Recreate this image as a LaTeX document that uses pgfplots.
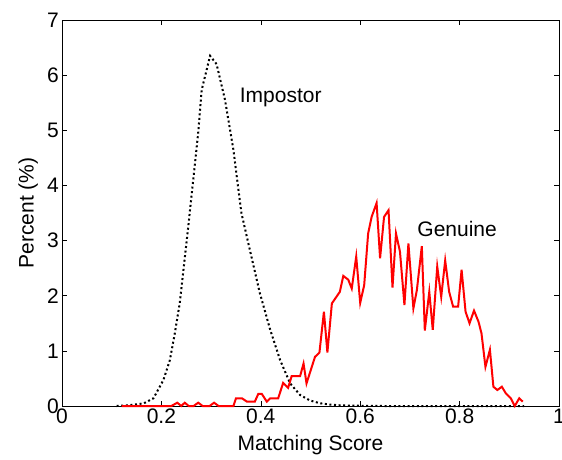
\documentclass[border=0pt]{standalone}
\usepackage{pgfplots}
\pgfplotsset{compat=1.18}
\usepackage{fontspec}
\setmainfont{Liberation Sans}

\begin{document}
\fontsize{21}{25}\selectfont
\begin{tikzpicture}
\begin{axis}[
    scale only axis,
    width=497pt, height=386pt,
    xmin=0, xmax=1,
    ymin=0, ymax=7,
    xtick={0,0.2,0.4,0.6,0.8,1},
    xticklabels={0,0.2,0.4,0.6,0.8,1},
    ytick={0,1,2,3,4,5,6,7},
    tick align=inside,
    major tick length=5pt,
    tick style={black, line width=0.6pt},
    axis line style={line width=0.8pt},
    /pgf/number format/assume math mode=true,
    ticklabel style={font=\fontsize{21}{25}\selectfont},
    xticklabel style={inner sep=1pt, yshift=-2pt},
    yticklabel style={inner sep=1pt, xshift=-2pt},
    xlabel={Matching Score},
    ylabel={Percent (\%)},
    label style={font=\fontsize{21}{25}\selectfont},
    xlabel style={yshift=-3pt},
    ylabel style={yshift=1pt},
    clip=false,
]
% impostor distribution
\addplot[black, line width=2pt, dash pattern=on 2pt off 2.6pt] coordinates {
(0.11,0) (0.13,0.01) (0.15,0.03) (0.165,0.05) (0.184,0.14) (0.204,0.47)
(0.217,0.83) (0.227,1.32) (0.237,1.87) (0.254,3.25) (0.274,4.95) (0.281,5.73)
(0.298,6.35) (0.311,6.2) (0.328,5.55) (0.345,4.64) (0.355,3.92) (0.361,3.5)
(0.378,2.83) (0.398,2.05) (0.419,1.38) (0.439,0.83) (0.459,0.41) (0.479,0.2)
(0.499,0.1) (0.519,0.05) (0.54,0.025) (0.56,0.012) (0.6,0.004) (0.65,0) (0.93,0)
};
% genuine distribution
\addplot[red, line width=2pt] coordinates {
(0.12,0) (0.22,0) (0.232,0.06) (0.24,0) (0.247,0.06) (0.255,0) (0.265,0)
(0.274,0.06) (0.283,0) (0.297,0) (0.306,0.06) (0.315,0) (0.345,0) (0.350,0.14)
(0.362,0.14) (0.372,0.08) (0.388,0.08) (0.395,0.22) (0.402,0.22) (0.412,0.08)
(0.419,0.14) (0.435,0.14) (0.445,0.42) (0.455,0.33) (0.462,0.54) (0.479,0.54)
(0.486,0.77) (0.492,0.41) (0.509,0.89) (0.518,0.97) (0.527,1.71) (0.534,0.97)
(0.543,1.86) (0.559,2.07) (0.566,2.36) (0.576,2.29) (0.583,2.13) (0.592,2.71)
(0.6,1.87) (0.608,2.19) (0.616,3.13) (0.623,3.43) (0.633,3.68) (0.64,2.68)
(0.648,3.43) (0.657,3.55) (0.665,2.15) (0.672,3.13) (0.68,2.8) (0.689,1.83)
(0.697,2.95) (0.707,1.77) (0.714,2.1) (0.724,2.9) (0.73,1.37) (0.739,2.07)
(0.746,1.38) (0.755,2.53) (0.763,1.98) (0.771,2.64) (0.779,2.07) (0.787,1.8)
(0.797,1.8) (0.804,2.47) (0.812,1.71) (0.82,1.5) (0.829,1.73) (0.838,1.53)
(0.844,1.32) (0.852,0.71) (0.861,1.02) (0.868,0.35) (0.876,0.29) (0.885,0.35)
(0.893,0.23) (0.903,0.14) (0.911,0) (0.92,0.14) (0.927,0.08)
};
\node[font=\fontsize{21}{25}\selectfont] at (axis cs:0.44,5.6) {Impostor};
\node[font=\fontsize{21}{25}\selectfont] at (axis cs:0.795,3.21) {Genuine};
\end{axis}
\pgfresetboundingbox
\path[use as bounding box] (-62pt,-53pt) rectangle (500pt,406pt);
\end{tikzpicture}
\end{document}
